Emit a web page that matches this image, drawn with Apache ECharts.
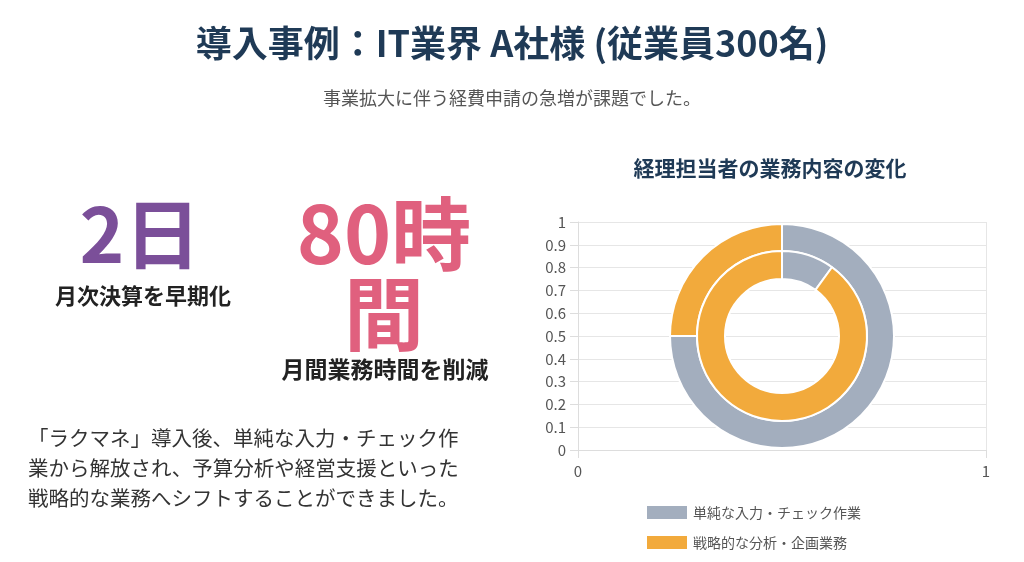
<!DOCTYPE html>
<html>
<head>
<meta charset="utf-8">
<script src="https://cdn.jsdelivr.net/npm/echarts@6/dist/echarts.min.js"></script>
<style>
  html, body { margin: 0; padding: 0; background: #fff; }
  #chart { width: 1024px; height: 562px; }
</style>
</head>
<body>
<div id="chart"></div>
<script>
// Data
const categories = ['単純な入力・チェック作業', '戦略的な分析・企画業務'];
const beforeValues = [75, 25];   // outer ring
const afterValues = [10, 90];    // inner ring
const yTicks = [0, 1];
const colors = ['#a3aebe', '#f2aa3c'];

const navy = '#1f3a56';
const font = '"Noto Sans CJK JP", "Noto Sans", sans-serif';

const chart = echarts.init(document.getElementById('chart'));

const paragraph = [
  '「ラクマネ」導入後、単純な入力・チェック作',
  '業から解放され、予算分析や経営支援といった',
  '戦略的な業務へシフトすることができました。'
];

chart.setOption({
  animation: false,
  color: colors,
  textStyle: { fontFamily: font },
  title: [
    {
      text: '導入事例：IT業界 A社様 (従業員300名)',
      left: 'center', top: 20,
      textStyle: { fontSize: 36, fontWeight: 'bold', color: navy, fontFamily: font }
    },
    {
      text: '事業拡大に伴う経費申請の急増が課題でした。',
      left: 'center', top: 84,
      textStyle: { fontSize: 18, fontWeight: 'normal', color: '#555', fontFamily: font }
    },
    {
      text: '経理担当者の業務内容の変化',
      left: 765, textAlign: 'center', top: 153,
      textStyle: { fontSize: 21, fontWeight: 'bold', color: navy, fontFamily: font }
    }
  ],
  graphic: [
    { type: 'text', x: 140, y: 234, style: { text: '2日', fill: '#7b4f99', font: 'bold 76px ' + font, textAlign: 'center', textVerticalAlign: 'middle' } },
    { type: 'text', x: 143, y: 296, style: { text: '月次決算を早期化', fill: '#222', font: 'bold 22px ' + font, textAlign: 'center', textVerticalAlign: 'middle' } },
    { type: 'text', x: 384, y: 234, style: { text: '80時', fill: '#e0607e', font: 'bold 80px ' + font, textAlign: 'center', textVerticalAlign: 'middle' } },
    { type: 'text', x: 384, y: 314, style: { text: '間', fill: '#e0607e', font: 'bold 80px ' + font, textAlign: 'center', textVerticalAlign: 'middle' } },
    { type: 'text', x: 385, y: 369, style: { text: '月間業務時間を削減', fill: '#222', font: 'bold 23px ' + font, textAlign: 'center', textVerticalAlign: 'middle' } },
    ...paragraph.map((line, i) => ({
      type: 'text', x: 28, y: 438 + i * 30,
      style: { text: line, fill: '#333', font: '20.5px ' + font, textVerticalAlign: 'middle' }
    }))
  ],
  grid: { left: 578, right: 38, top: 222, bottom: 112 },
  xAxis: {
    type: 'value', min: yTicks[0], max: yTicks[1], interval: 1,
    axisLine: { show: true, lineStyle: { color: '#ddd' } },
    axisTick: { show: true, length: 8, lineStyle: { color: '#ddd' } },
    axisLabel: { color: '#555', fontSize: 15, margin: 14 },
    splitLine: { lineStyle: { color: '#e6e6e6' } }
  },
  yAxis: {
    type: 'value', min: yTicks[0], max: yTicks[1], interval: 0.1,
    axisLine: { show: true, lineStyle: { color: '#ddd' } },
    axisTick: { show: true, length: 8, lineStyle: { color: '#ddd' } },
    axisLabel: { color: '#555', fontSize: 15, margin: 12 },
    splitLine: { lineStyle: { color: '#e6e6e6' } }
  },
  legend: {
    orient: 'vertical', left: 640, top: 499, itemGap: 13,
    itemWidth: 42, itemHeight: 15, icon: 'rect',
    data: categories,
    textStyle: { color: '#555', fontSize: 14, fontFamily: font }
  },
  series: [
    {
      name: '導入前', type: 'pie', center: [782, 336], radius: [85, 112],
      startAngle: 90, clockwise: true, label: { show: false },
      itemStyle: { borderColor: '#fff', borderWidth: 2 },
      data: categories.map((c, i) => ({ name: c, value: beforeValues[i] }))
    },
    {
      name: '導入後', type: 'pie', center: [782, 336], radius: [57, 85],
      startAngle: 90, clockwise: true, label: { show: false },
      itemStyle: { borderColor: '#fff', borderWidth: 2 },
      data: categories.map((c, i) => ({ name: c, value: afterValues[i] }))
    }
  ]
});
</script>
</body>
</html>
